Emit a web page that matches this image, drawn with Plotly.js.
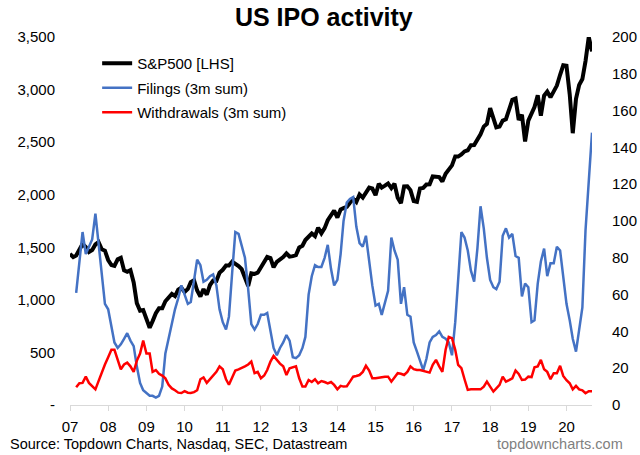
<!DOCTYPE html>
<html>
<head>
<meta charset="utf-8">
<script src="https://cdn.plot.ly/plotly-3.0.1.min.js"></script>
<style>html,body{margin:0;padding:0;background:#fff;}#chart{width:640px;height:455px;}</style>
</head>
<body>
<div id="chart"></div>
<script>
// Monthly observations, Jan 2007 .. Sep 2020
var startYear = 2007, startMonth = 1, nMonths = 165;
var months = [];
for (var i = 0; i < nMonths; i++) {
  var y = startYear + Math.floor((startMonth - 1 + i) / 12);
  var m = ((startMonth - 1 + i) % 12) + 1;
  months.push(y + '-' + (m < 10 ? '0' + m : m) + '-01');
}

// S&P500 monthly level [LHS]
var sp500 = [
  1438,1407,1421,1482,1531,1503,1455,1474,1527,1549,1481,1468,
  1379,1331,1323,1386,1400,1280,1267,1283,1165,969,896,903,
  826,735,798,873,919,919,987,1021,1057,1036,1096,1115,
  1074,1104,1169,1187,1089,1031,1102,1049,1141,1183,1181,1258,
  1286,1327,1326,1364,1345,1321,1292,1219,1131,1253,1247,1258,
  1312,1366,1408,1398,1310,1362,1379,1407,1441,1412,1416,1426,
  1498,1515,1569,1598,1631,1606,1686,1633,1682,1757,1806,1848,
  1783,1859,1872,1884,1924,1960,1931,2003,1972,2018,2068,2059,
  1995,2105,2068,2086,2107,2063,2104,1972,1920,2079,2080,2044,
  1940,1932,2060,2065,2097,2099,2174,2171,2168,2126,2199,2239,
  2279,2364,2363,2384,2412,2423,2470,2472,2519,2575,2648,2674,
  2824,2714,2641,2648,2705,2718,2816,2902,2914,2712,2760,2507,
  2704,2784,2834,2946,2752,2942,2980,2926,2977,3038,3141,3231,
  3226,2954,2585,2912,3044,3100,3271,3500,3363
];

// IPO filings, 3-month sum [RHS]
var filings = [
  null,null,61,78,94,82,86,90,104,88,70,55,
  52,42,34,31,33,36,39,35,32,21,12,8,
  6.5,5,5,4,5,10,28,36,44,52,58,65,
  60,55,56,68,79,76,67,68,70,71,65,52,
  45,41,48,72,94,93,87,80,63,44,41,44,
  49,49,50,40,31,27,31,34,38,35,26,25.5,
  27,31,37,60,70,76,75,75,80,87,74,65,
  68,82,100,110,112,113,97,88,86,92,78,65,
  54,55,49,56,62,91,84,79,55,64,49,48,
  34,29,24,19,25,34,37,38,40,37,36,34,
  27,45,68,94,91,84,73,67,85,108,96,80,
  68,64,63,67,92,96,91,93,81,80,59,66,
  64,45,46,66,78,85,70,77,77,86,84,70,
  55,46,36,29,40,53,95,122,148
];

// IPO withdrawals, 3-month sum [RHS]
var withdrawals = [
  null,null,9.6,11.8,12,15.4,12,10.5,8.5,13,18,22,
  26,30,30,24.5,19.4,22,23,21,18,24,28,35,
  28,28,18,19,17,16,14.5,11,9,8,6.7,6.5,
  7.5,6.7,6.5,7,8,14,15,12,14,15.4,18,21,
  19.4,14,11,15,18.7,19.4,20,21,22,23.6,17.3,18,
  14.5,16,19,23.6,26.7,24.5,22.5,21,16.3,20,20.5,21,
  14.5,10,10,13.6,12.5,14,11.8,13,12.5,11.8,12.5,10.9,
  8.5,10.4,10,10.2,12.7,15.4,15.8,16.3,18,21.3,18.7,14.5,
  14.5,14.8,15.4,15.4,15.4,12.7,15,17.3,17,16.3,18,21,
  19.5,19,19,18.5,18,17.6,21.8,24.5,21,18,30,37,
  36.3,30,21.8,20,14,8.2,8.5,8.5,8.5,8.5,10,12.7,
  10,7.3,9,10.9,15.4,12.7,13.5,14.5,18.7,16.9,13.6,13.8,
  15.4,15.2,20.5,21,24.5,19.4,18,14,17.3,17.3,21.3,15.8,
  13.5,11.8,8.5,10.4,8.5,8,6.4,7.5,7.5
];

var xTickVals = ['2007-01-01','2008-01-01','2009-01-01','2010-01-01','2011-01-01','2012-01-01','2013-01-01','2014-01-01','2015-01-01','2016-01-01','2017-01-01','2018-01-01','2019-01-01','2020-01-01'];
var xTickText = ['07','08','09','10','11','12','13','14','15','16','17','18','19','20'];
var leftTickVals = [0,500,1000,1500,2000,2500,3000,3500];
var leftTickText = ['-','500','1,000','1,500','2,000','2,500','3,000','3,500'];
var rightTickVals = [0,20,40,60,80,100,120,140,160,180,200];

var FONT = 'Liberation Sans, Arial, sans-serif';

var traces = [
  {x: months, y: sp500, name: 'S&P500 [LHS]', type: 'scatter', mode: 'lines',
   line: {color: '#000000', width: 4}, yaxis: 'y', legendgroup: 'a'},
  {x: months, y: filings, name: 'Filings (3m sum)', type: 'scatter', mode: 'lines',
   line: {color: '#4472C4', width: 2.5}, yaxis: 'y2', legendgroup: 'b'},
  {x: months, y: withdrawals, name: 'Withdrawals (3m sum)', type: 'scatter', mode: 'lines',
   line: {color: '#FF0000', width: 2.5}, yaxis: 'y2', legendgroup: 'c'}
];

var layout = {
  width: 640, height: 455,
  margin: {l: 70, r: 48, t: 37, b: 50},
  paper_bgcolor: '#ffffff', plot_bgcolor: '#ffffff',
  font: {family: FONT, size: 15, color: '#000000'},
  title: {text: '<b>US IPO activity</b>', x: 0.506, xref: 'container', xanchor: 'center',
          y: 0.962, yref: 'container', yanchor: 'middle',
          font: {family: FONT, size: 25, color: '#000000'}},
  showlegend: true,
  legend: {x: 0.052, xanchor: 'left', y: 0.973, yanchor: 'top', bgcolor: 'rgba(0,0,0,0)',
           font: {family: FONT, size: 15, color: '#000000'}, tracegroupgap: 2,
           traceorder: 'grouped'},
  xaxis: {type: 'date', range: ['2007-01-01', '2020-09-01'], tickvals: xTickVals, ticktext: xTickText,
          showgrid: false, zeroline: false, showline: true, linecolor: '#d9d9d9', linewidth: 1,
          ticks: 'outside', ticklen: 5, tickcolor: '#d9d9d9', ticklabelstandoff: 3,
          tickfont: {family: FONT, size: 15, color: '#000'}},
  yaxis: {range: [0, 3500], tickvals: leftTickVals, ticktext: leftTickText, showgrid: false,
          zeroline: false, showline: false, ticks: '', ticklabelstandoff: 14,
          tickfont: {family: FONT, size: 15, color: '#000'}},
  yaxis2: {range: [0, 200], tickvals: rightTickVals, overlaying: 'y', side: 'right', showgrid: false,
           zeroline: false, showline: false, ticks: '', ticklabelstandoff: 19,
           tickfont: {family: FONT, size: 15, color: '#000'}},
  annotations: [
    {text: 'Source: Topdown Charts, Nasdaq, SEC, Datastream', xref: 'paper', yref: 'paper',
     x: -0.119, y: -0.106, xanchor: 'left', yanchor: 'middle', showarrow: false,
     font: {family: FONT, size: 14.5, color: '#000000'}},
    {text: 'topdowncharts.com', xref: 'paper', yref: 'paper',
     x: 1.063, y: -0.106, xanchor: 'right', yanchor: 'middle', showarrow: false,
     font: {family: FONT, size: 14.5, color: '#7f7f7f'}}
  ],
  hovermode: false
};

Plotly.newPlot('chart', traces, layout, {displayModeBar: false, staticPlot: true});
</script>
</body>
</html>
